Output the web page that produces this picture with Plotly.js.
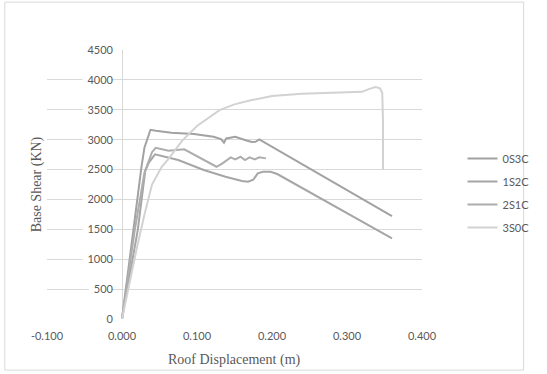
<!DOCTYPE html>
<html>
<head>
<meta charset="utf-8">
<script src="https://cdn.plot.ly/plotly-3.0.1.min.js"></script>
<style>html,body{margin:0;padding:0;background:#fff;}#chart{width:547px;height:374px;}</style>
</head>
<body>
<div id="chart"></div>
<script>
// Series names
const seriesNames = ["0S3C", "1S2C", "2S1C", "3S0C"];

// 0S3C
const x0S3C = [0, 0.015, 0.026, 0.030, 0.034, 0.038, 0.045, 0.066, 0.096, 0.122, 0.132, 0.136, 0.139, 0.151, 0.165, 0.173, 0.178, 0.183, 0.360];
const y0S3C = [0, 1500, 2550, 2870, 3030, 3165, 3150, 3115, 3094, 3049, 3010, 2949, 3021, 3050, 2990, 2960, 2965, 3005, 1722];

// 1S2C
const x1S2C = [0, 0.021, 0.031, 0.036, 0.044, 0.075, 0.109, 0.138, 0.160, 0.168, 0.175, 0.181, 0.188, 0.198, 0.207, 0.360];
const y1S2C = [0, 1488, 2480, 2620, 2755, 2659, 2492, 2380, 2310, 2296, 2330, 2436, 2464, 2464, 2425, 1349];

// 2S1C
const x2S1C = [0, 0.017, 0.030, 0.035, 0.040, 0.045, 0.062, 0.083, 0.100, 0.126, 0.134, 0.145, 0.151, 0.158, 0.164, 0.170, 0.177, 0.183, 0.192];
const y2S1C = [0, 1488, 2450, 2620, 2790, 2865, 2815, 2838, 2720, 2547, 2603, 2704, 2670, 2714, 2659, 2704, 2670, 2704, 2687];

// 3S0C
const x3S0C = [0, 0.010, 0.020, 0.030, 0.040, 0.053, 0.062, 0.080, 0.100, 0.130, 0.150, 0.173, 0.200, 0.240, 0.280, 0.310, 0.320, 0.330, 0.338, 0.344, 0.347, 0.348, 0.348];
const y3S0C = [0, 620, 1200, 1750, 2250, 2547, 2680, 2980, 3230, 3495, 3590, 3662, 3729, 3770, 3780, 3785, 3800, 3850, 3880, 3860, 3780, 3300, 2500];

// Tick values / labels
const xTickVals = [-0.1, 0, 0.1, 0.2, 0.3, 0.4];
const xTickText = ["-0.100", "0.000", "0.100", "0.200", "0.300", "0.400"];
const yTickVals = [0, 500, 1000, 1500, 2000, 2500, 3000, 3500, 4000, 4500];

const xTitle = "Roof Displacement (m)";
const yTitle = "Base Shear (KN)";

const lineColors = ["#a2a2a2", "#a6a6a6", "#adadad", "#d2d2d2"];
const xs = [x0S3C, x1S2C, x2S1C, x3S0C];
const ys = [y0S3C, y1S2C, y2S1C, y3S0C];

const traces = seriesNames.map((n, i) => ({
  type: "scatter", mode: "lines", name: n,
  x: xs[i], y: ys[i],
  line: {color: lineColors[i], width: 2},
  legendgroup: n
}));

const tickFont = {family: "Lato, 'Open Sans', sans-serif", size: 11, color: "#595959"};
const titleFont = {family: "'Liberation Serif', 'DejaVu Serif', serif", size: 14, color: "#595959"};

// white backgrounds behind y tick labels (gridlines pass behind labels in the original)
const labelBg = yTickVals.map(v => {
  const w = String(v).length * 0.0085 + 0.004;
  return {type: "rect", layer: "between", xref: "x", yref: "y",
    x0: -0.0145 - w, x1: -0.0135, y0: v - 85, y1: v + 85,
    fillcolor: "#ffffff", line: {width: 0}};
});

const layout = {
  width: 547, height: 374,
  margin: {l: 47, r: 109, t: 50, b: 55},
  paper_bgcolor: "#ffffff", plot_bgcolor: "#ffffff",
  showlegend: true,
  legend: {x: 1.108, xanchor: "left", y: 0.651, yanchor: "top",
    font: tickFont, tracegroupgap: 4, bgcolor: "rgba(0,0,0,0)"},
  xaxis: {range: [-0.1, 0.4], tickvals: xTickVals, ticktext: xTickText,
    showgrid: false, zeroline: true, zerolinecolor: "#d9d9d9", zerolinewidth: 1,
    showline: false, ticks: "", tickfont: tickFont, ticklabelstandoff: 9, fixedrange: true},
  yaxis: {range: [0, 4500], tickvals: yTickVals, anchor: "free", position: 0.2,
    showgrid: true, gridcolor: "#d9d9d9", gridwidth: 1, zeroline: false, showline: false,
    ticks: "", tickfont: tickFont, ticklabelstandoff: 9, fixedrange: true},
  shapes: labelBg.concat([{type: "rect", xref: "paper", yref: "paper",
    x0: -0.1125, x1: 1.271, y0: -0.19, y1: 1.178,
    line: {color: "#d9d9d9", width: 1}, fillcolor: "rgba(0,0,0,0)"}]),
  annotations: [
    {text: yTitle, xref: "paper", yref: "paper", x: -0.0256, y: 0.502,
      xanchor: "center", yanchor: "middle", textangle: -90, showarrow: false, font: titleFont},
    {text: xTitle, xref: "paper", yref: "paper", x: 0.5, y: -0.152,
      xanchor: "center", yanchor: "middle", showarrow: false, font: titleFont}
  ]
};

Plotly.newPlot("chart", traces, layout, {staticPlot: true, displayModeBar: false});
</script>
</body>
</html>
